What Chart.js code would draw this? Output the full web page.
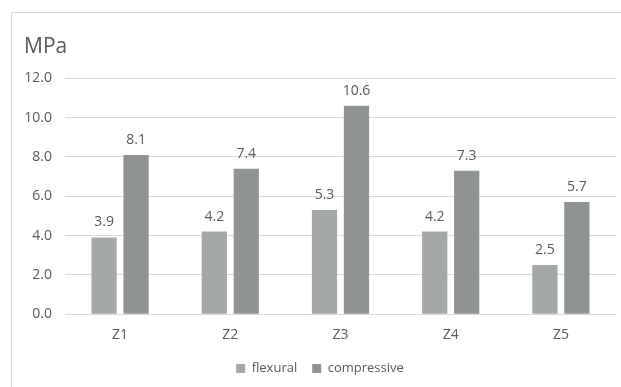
<!DOCTYPE html>
<html>
<head>
<meta charset="utf-8">
<script src="https://cdn.jsdelivr.net/npm/chart.js@4/dist/chart.umd.min.js"></script>
<style>
  html, body { margin: 0; padding: 0; background: #fff; overflow: hidden; }
  #wrap { position: relative; width: 621px; height: 387px; overflow: hidden; }
  #frame { position: absolute; left: 11px; top: 12px; width: 640px; height: 400px;
           border: 1px solid #d9d9d9; box-sizing: border-box; }
  #box { position: absolute; left: 0; top: 0; width: 650px; height: 387px; }
</style>
</head>
<body>
<div id="wrap">
  <div id="frame"></div>
  <div id="box"><canvas id="c"></canvas></div>
</div>
<script>
const categories = ['Z1', 'Z2', 'Z3', 'Z4', 'Z5'];
const flexural = [3.9, 4.2, 5.3, 4.2, 2.5];
const compressive = [8.1, 7.4, 10.6, 7.3, 5.7];
const seriesNames = ['flexural', 'compressive'];
const unitLabel = 'MPa';

const FONT = "'Open Sans', 'Noto Sans', sans-serif";
const TEXT = '#595959';

// writes each bar's value just above it
const valueLabels = {
  id: 'valueLabels',
  afterDatasetsDraw(chart) {
    const ctx = chart.ctx;
    ctx.save();
    ctx.font = '14px ' + FONT;
    ctx.fillStyle = TEXT;
    ctx.textAlign = 'center';
    ctx.textBaseline = 'bottom';
    chart.data.datasets.forEach((ds, i) => {
      chart.getDatasetMeta(i).data.forEach((bar, j) => {
        ctx.fillText(ds.data[j].toFixed(1), bar.x, bar.y - 8);
      });
    });
    ctx.restore();
  }
};

new Chart(document.getElementById('c'), {
  type: 'bar',
  data: {
    labels: categories,
    datasets: [
      { label: seriesNames[0], data: flexural, backgroundColor: '#a5a8a8' },
      { label: seriesNames[1], data: compressive, backgroundColor: '#8f9393' }
    ]
  },
  options: {
    responsive: true,
    maintainAspectRatio: false,
    animation: false,
    categoryPercentage: 0.58,
    barPercentage: 0.79,
    layout: { padding: { left: 24, right: 34, top: 0, bottom: 2 } },
    plugins: {
      title: {
        display: true, text: unitLabel, align: 'start', color: TEXT,
        font: { family: FONT, size: 21, weight: 'normal' },
        padding: { top: 34, bottom: 19 }
      },
      legend: {
        position: 'bottom',
        labels: {
          color: TEXT, boxWidth: 9, boxHeight: 9, padding: 15,
          font: { family: FONT, size: 13 }
        }
      },
      tooltip: { enabled: false }
    },
    scales: {
      x: {
        grid: { display: false },
        border: { display: false },
        ticks: { color: TEXT, font: { family: FONT, size: 14 }, padding: 4 }
      },
      y: {
        min: 0, max: 12,
        afterFit(scale) { scale.width = 41; },
        grid: { color: '#d9d9d9', drawTicks: false },
        border: { display: false },
        ticks: {
          stepSize: 2, color: TEXT, padding: 13,
          font: { family: FONT, size: 14 },
          callback: v => Number(v).toFixed(1)
        }
      }
    }
  },
  plugins: [valueLabels]
});
</script>
</body>
</html>
